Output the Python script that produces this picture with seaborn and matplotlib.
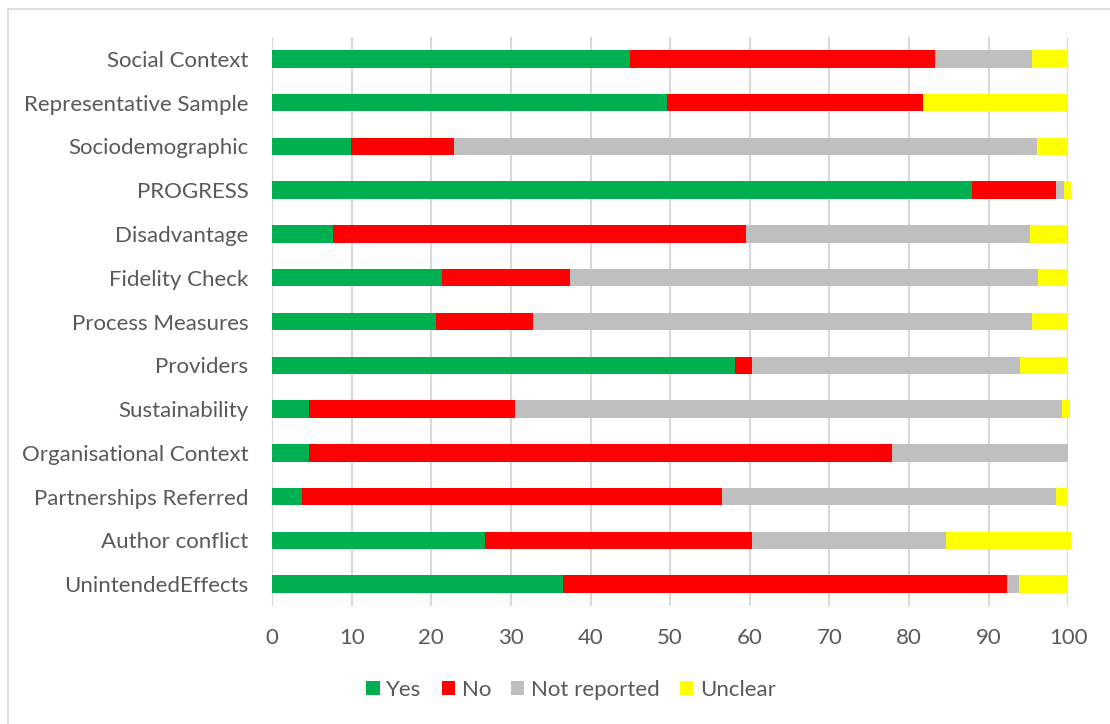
import matplotlib
matplotlib.use("Agg")
import matplotlib.pyplot as plt
from matplotlib.patches import Rectangle, Patch
import seaborn as sns
import numpy as np
import pandas as pd

categories = ["Social Context", "Representative Sample", "Sociodemographic", "PROGRESS",
              "Disadvantage", "Fidelity Check", "Process Measures", "Providers",
              "Sustainability", "Organisational Context", "Partnerships Referred",
              "Author conflict", "UnintendedEffects"]
yes = [45.0, 49.6, 9.9, 87.9, 7.6, 21.4, 20.6, 58.1, 4.6, 4.6, 3.8, 26.7, 36.6]
no = [38.3, 32.1, 13.0, 10.6, 51.9, 16.0, 12.2, 2.2, 25.9, 73.3, 52.7, 33.6, 55.7]
not_reported = [12.1, 0.0, 73.2, 1.0, 35.7, 58.8, 62.6, 33.6, 68.7, 22.1, 42.0, 24.4, 1.5]
unclear = [4.6, 18.3, 3.9, 0.8, 4.6, 3.8, 4.6, 6.1, 1.0, 0.0, 1.5, 15.6, 6.1]

series_names = ["Yes", "No", "Not reported", "Unclear"]
series_colors = ["#00B050", "#FF0000", "#BFBFBF", "#FFFF00"]
x_ticks = [0, 10, 20, 30, 40, 50, 60, 70, 80, 90, 100]

sns.set_theme(style="white")
plt.rcParams["font.family"] = ["Lato", "DejaVu Sans"]
text_color = "#595959"
fsize = 16

df = pd.DataFrame({"category": categories, "Yes": yes, "No": no,
                   "Not reported": not_reported, "Unclear": unclear})
cum = df[series_names].cumsum(axis=1)

fig = plt.figure(figsize=(11.1, 7.24), dpi=100)
W, H = 1110, 724
ax = fig.add_axes([272 / W, 1 - 606 / H, (1068.3 - 272) / W, (606 - 37) / H])

for name, color in reversed(list(zip(series_names, series_colors))):
    sns.barplot(x=cum[name], y=df["category"], order=categories, color=color,
                width=0.4, orient="h", ax=ax, saturation=1, linewidth=0)

for p in ax.patches:
    p.set_clip_on(False)

ax.set_xlim(0, 100)
ax.set_ylim(12.5, -0.5)
ax.set_xticks(x_ticks)
ax.set_xlabel("")
ax.set_ylabel("")
ax.xaxis.grid(True, color="#D9D9D9", linewidth=1.5)
ax.yaxis.grid(False)
ax.set_axisbelow(True)
for s in ax.spines.values():
    s.set_visible(False)
ax.tick_params(axis="both", length=0, labelsize=fsize, labelcolor=text_color)
ax.tick_params(axis="y", pad=17)
ax.tick_params(axis="x", pad=16)

handles = [Patch(facecolor=c, edgecolor="none") for c in series_colors]
fig.legend(handles, series_names, loc="center", bbox_to_anchor=(571 / W, 1 - 690 / H),
           ncol=4, frameon=False, fontsize=fsize, labelcolor=text_color,
           handlelength=0.6, handleheight=0.6, handletextpad=0.3, columnspacing=0.9)

fig.patches.append(Rectangle((8 / W, -0.1), 1.2, 1 - 9 / H + 0.1, transform=fig.transFigure,
                             fill=False, edgecolor="#D9D9D9", linewidth=1.2, zorder=-1))

fig.savefig("out.png", dpi=100, facecolor="white")
